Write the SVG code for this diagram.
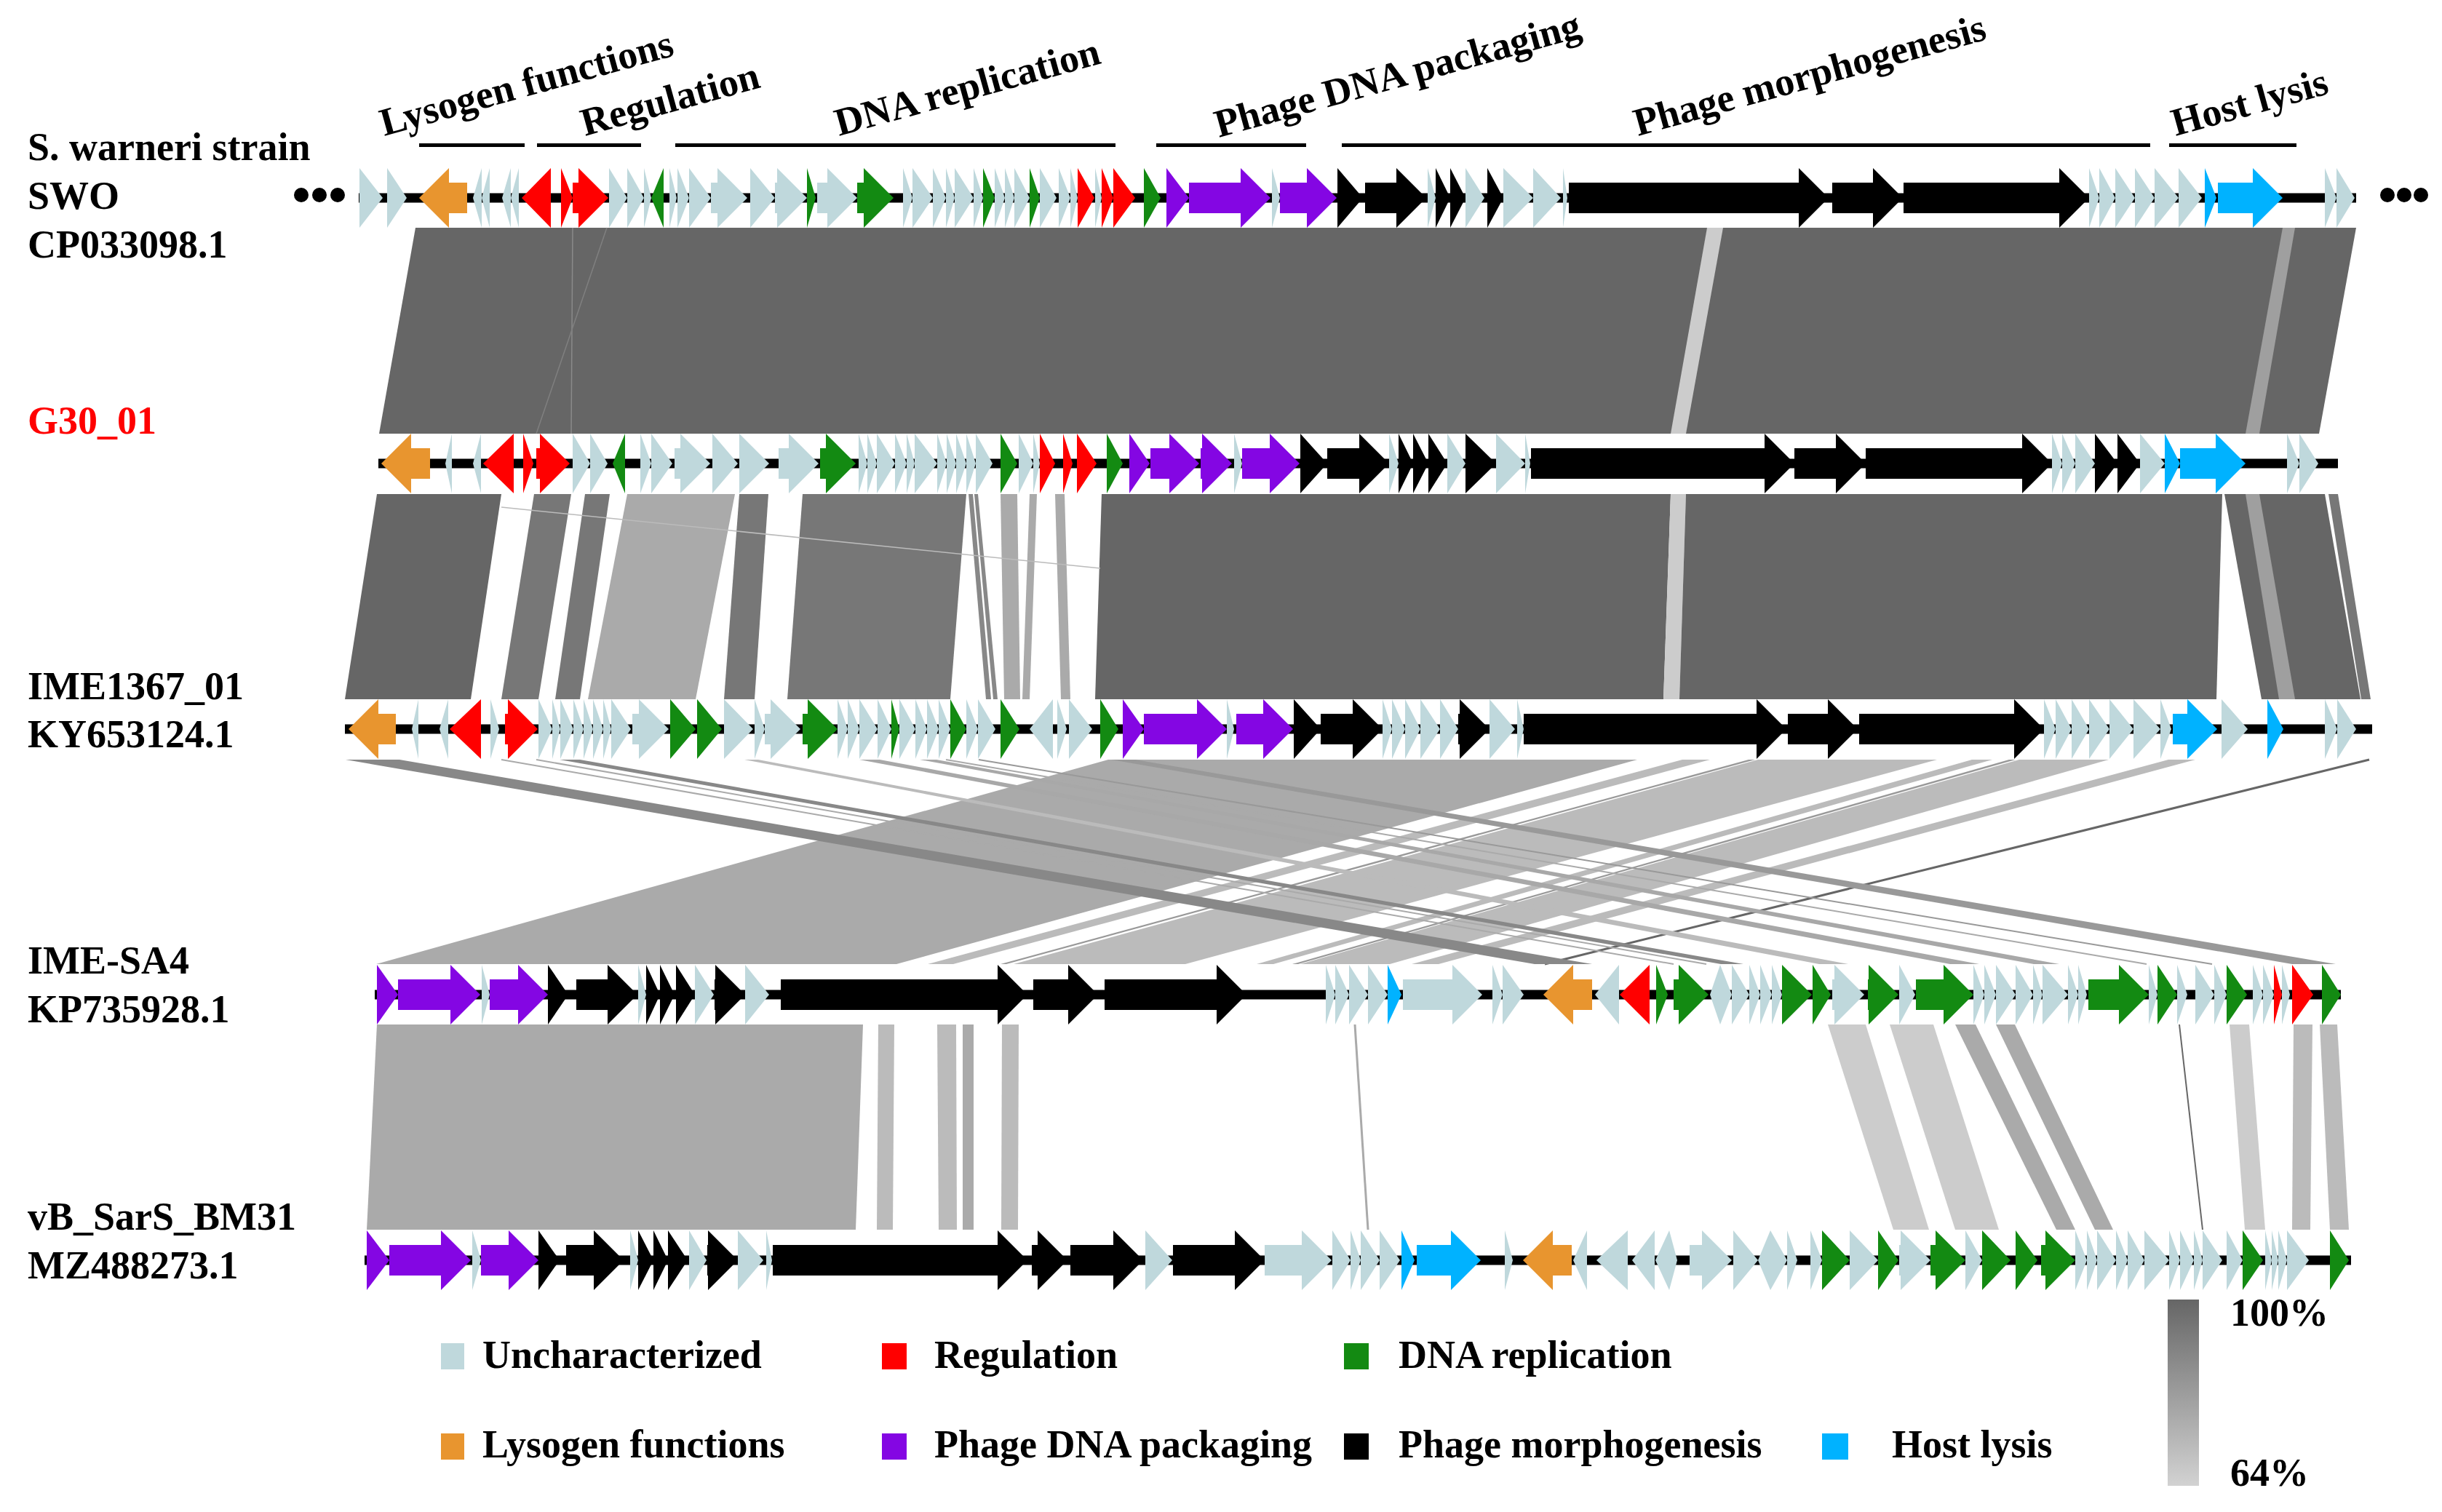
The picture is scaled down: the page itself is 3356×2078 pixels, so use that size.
<svg xmlns="http://www.w3.org/2000/svg" width="3356" height="2078" viewBox="0 0 3356 2078">
<defs>
<style>
.t{font-family:"Liberation Serif","Times New Roman",serif;font-weight:bold;font-size:54px;fill:#000}
.u{fill:#BFD8DC}.r{fill:#FF0000}.g{fill:#138A12}.o{fill:#E8952F}.p{fill:#8406E3}.k{fill:#000}.b{fill:#00B2FF}
.ax{fill:#000}
</style>
<linearGradient id="sim" x1="0" y1="0" x2="0" y2="1">
<stop offset="0" stop-color="#666"/><stop offset="1" stop-color="#d2d2d2"/>
</linearGradient>
</defs>
<rect width="3356" height="2078" fill="#fff"/>

<g id="connectors">
<!-- band 1 -->
<polygon points="571,313 3238,313 3187,596 521,596" fill="#666"/>
<polygon points="2346,313 2368,313 2317,596 2296,596" fill="#ccc"/>
<polygon points="3137,313 3154,313 3105,596 3086,596" fill="#9f9f9f"/>
<line x1="787" y1="313" x2="785" y2="596" stroke="#8a8a8a" stroke-width="1.5"/>
<line x1="834" y1="313" x2="737" y2="596" stroke="#808080" stroke-width="1.5"/>
<!-- band 2 -->
<polygon points="518,679 689,679 647,961 474,961" fill="#666"/>
<polygon points="734,679 785,679 740,961 689,961" fill="#777"/>
<polygon points="804,679 838,679 797,961 763,961" fill="#777"/>
<polygon points="862,679 1010,679 956,961 808,961" fill="#aaa"/>
<polygon points="1016,679 1056,679 1037,961 995,961" fill="#777"/>
<polygon points="1103,679 1328,679 1306,961 1082,961" fill="#777"/>
<polygon points="1331,679 1337,679 1362,961 1355,961" fill="#888"/>
<polygon points="1339,679 1344,679 1371,961 1365,961" fill="#888"/>
<polygon points="1375,679 1398,679 1402,961 1380,961" fill="#aaa"/>
<polygon points="1415,679 1425,679 1415,961 1405,961" fill="#aaa"/>
<polygon points="1450,679 1463,679 1471,961 1458,961" fill="#aaa"/>
<polygon points="1514,679 2296,679 2286,961 1505,961" fill="#666"/>
<polygon points="2296,679 2317,679 2308,961 2286,961" fill="#ccc"/>
<polygon points="2317,679 3054,679 3046,961 2308,961" fill="#666"/>
<polygon points="3057,679 3195,679 3244,961 3108,961" fill="#666"/>
<polygon points="3086,679 3105,679 3154,961 3132,961" fill="#9f9f9f"/>
<polygon points="3200,679 3213,679 3258,961 3245,961" fill="#777"/>
<line x1="689" y1="697" x2="1512" y2="781" stroke="#bbb" stroke-width="1.5"/>
<!-- band 3 -->
<polygon points="1523,1044 2250,1044 1232,1325 517,1325" fill="#aaa"/>
<polygon points="2312,1044 2350,1044 1310,1325 1275,1325" fill="#bbb"/>
<polygon points="2403,1044 2412,1044 1383,1325 1375,1325" fill="#999"/>
<polygon points="2416,1044 2662,1044 1629,1325 1393,1325" fill="#bbb"/>
<polygon points="2710,1044 2738,1044 1750,1325 1727,1325" fill="#bbb"/>
<polygon points="2761,1044 2770,1044 1784,1325 1776,1325" fill="#999"/>
<polygon points="2775,1044 2898,1044 1910,1325 1787,1325" fill="#bbb"/>
<polygon points="2980,1044 3017,1044 1977,1325 1940,1325" fill="#bbb"/>
<line x1="3256" y1="1044" x2="2123" y2="1325" stroke="#666" stroke-width="3"/>
<polygon points="475,1044 549,1044 2188,1325 2109,1325" fill="#888"/>
<line x1="689" y1="1044" x2="2300" y2="1325" stroke="#aaa" stroke-width="2"/>
<line x1="737" y1="1044" x2="2345" y2="1325" stroke="#aaa" stroke-width="2"/>
<polygon points="769,1044 797,1044 2396,1325 2365,1325" fill="#888"/>
<polygon points="1023,1044 1042,1044 2540,1325 2500,1325" fill="#bbb"/>
<polygon points="1181,1044 1209,1044 2720,1325 2680,1325" fill="#a8a8a8"/>
<polygon points="1264,1044 1287,1044 2830,1325 2795,1325" fill="#a8a8a8"/>
<line x1="1300" y1="1044" x2="2950" y2="1325" stroke="#aaa" stroke-width="2"/>
<line x1="1345" y1="1044" x2="3040" y2="1325" stroke="#999" stroke-width="2"/>
<polygon points="1527,1044 1560,1044 3210,1325 3150,1325" fill="#999"/>
<!-- band 4 -->
<polygon points="518,1408 1186,1408 1176,1690 504,1690" fill="#aaa"/>
<polygon points="1207,1408 1229,1408 1227,1690 1205,1690" fill="#bbb"/>
<polygon points="1288,1408 1314,1408 1315,1690 1290,1690" fill="#bbb"/>
<polygon points="1323,1408 1338,1408 1338,1690 1323,1690" fill="#aaa"/>
<polygon points="1377,1408 1400,1408 1399,1690 1376,1690" fill="#bbb"/>
<line x1="1862" y1="1408" x2="1880" y2="1690" stroke="#aaa" stroke-width="3"/>
<polygon points="2512,1408 2564,1408 2651,1690 2602,1690" fill="#ccc"/>
<polygon points="2597,1408 2657,1408 2747,1690 2687,1690" fill="#ccc"/>
<polygon points="2687,1408 2715,1408 2852,1690 2826,1690" fill="#aaa"/>
<polygon points="2743,1408 2769,1408 2904,1690 2879,1690" fill="#aaa"/>
<line x1="2995" y1="1408" x2="3027" y2="1690" stroke="#666" stroke-width="2"/>
<polygon points="3064,1408 3091,1408 3113,1690 3085,1690" fill="#ccc"/>
<polygon points="3152,1408 3178,1408 3175,1690 3150,1690" fill="#bbb"/>
<polygon points="3188,1408 3212,1408 3228,1690 3202,1690" fill="#bbb"/>
</g>

<g id="category-labels">
<text class="t" transform="translate(528,187) rotate(-15.5)">Lysogen functions</text>
<text class="t" transform="translate(804,187) rotate(-15.5)">Regulation</text>
<text class="t" transform="translate(1153,187) rotate(-15.5)">DNA replication</text>
<text class="t" transform="translate(1675,189) rotate(-15.5)">Phage DNA packaging</text>
<text class="t" transform="translate(2251,187) rotate(-15.5)">Phage morphogenesis</text>
<text class="t" transform="translate(2990,187) rotate(-15.5)">Host lysis</text>
<rect x="576" y="197" width="145" height="5"/>
<rect x="738" y="197" width="143" height="5"/>
<rect x="928" y="197" width="605" height="5"/>
<rect x="1589" y="197" width="206" height="5"/>
<rect x="1844" y="197" width="1111" height="5"/>
<rect x="2981" y="197" width="175" height="5"/>
</g>

<g id="track-SWO" transform="translate(0,272)">
<circle cx="414" cy="-4" r="10"/><circle cx="439" cy="-4" r="10"/><circle cx="464" cy="-4" r="10"/>
<circle cx="3281" cy="-4" r="10"/><circle cx="3304" cy="-4" r="10"/><circle cx="3327" cy="-4" r="10"/>
<rect class="ax" x="493" y="-6.5" width="2745" height="13"/>
<polygon class="u" points="494,-41 526,0 494,41"/>
<polygon class="u" points="532,-41 559,0 532,41"/>
<polygon class="o" points="642,-21 617,-21 617,-41 576,0 617,41 617,21 642,21"/>
<polygon class="u" points="662,-41 650,0 662,41"/>
<polygon class="u" points="673,-41 662,0 673,41"/>
<polygon class="u" points="702,-41 690,0 702,41"/>
<polygon class="u" points="713,-41 702,0 713,41"/>
<polygon class="r" points="757,-41 717,0 757,41"/>
<polygon class="r" points="771,-41 787,0 771,41"/>
<polygon class="r" points="787,-21 795,-21 795,-41 836,0 795,41 795,21 787,21"/>
<polygon class="u" points="837,-41 862,0 837,41"/>
<polygon class="u" points="862,-41 885,0 862,41"/>
<polygon class="u" points="885,-41 895,0 885,41"/>
<polygon class="g" points="912,-41 895,0 912,41"/>
<polygon class="u" points="920,-41 930,0 920,41"/>
<polygon class="u" points="931,-41 947,0 931,41"/>
<polygon class="u" points="947,-41 977,0 947,41"/>
<polygon class="u" points="977,-21 986,-21 986,-41 1027,0 986,41 986,21 977,21"/>
<polygon class="u" points="1031,-41 1065,0 1031,41"/>
<polygon class="u" points="1065,-21 1068,-21 1068,-41 1109,0 1068,41 1068,21 1065,21"/>
<polygon class="g" points="1109,-41 1121,0 1109,41"/>
<polygon class="u" points="1123,-21 1137,-21 1137,-41 1178,0 1137,41 1137,21 1123,21"/>
<polygon class="g" points="1178,-21 1187,-21 1187,-41 1228,0 1187,41 1187,21 1178,21"/>
<polygon class="u" points="1241,-41 1254,0 1241,41"/>
<polygon class="u" points="1254,-41 1282,0 1254,41"/>
<polygon class="u" points="1282,-41 1300,0 1282,41"/>
<polygon class="u" points="1300,-41 1312,0 1300,41"/>
<polygon class="u" points="1312,-41 1338,0 1312,41"/>
<polygon class="u" points="1338,-41 1351,0 1338,41"/>
<polygon class="g" points="1351,-41 1367,0 1351,41"/>
<polygon class="u" points="1367,-41 1381,0 1367,41"/>
<polygon class="u" points="1381,-41 1394,0 1381,41"/>
<polygon class="u" points="1394,-41 1415,0 1394,41"/>
<polygon class="g" points="1415,-41 1429,0 1415,41"/>
<polygon class="u" points="1429,-41 1452,0 1429,41"/>
<polygon class="u" points="1455,-41 1471,0 1455,41"/>
<polygon class="u" points="1471,-41 1481,0 1471,41"/>
<polygon class="r" points="1481,-41 1504,0 1481,41"/>
<polygon class="u" points="1505,-41 1514,0 1505,41"/>
<polygon class="r" points="1514,-41 1530,0 1514,41"/>
<polygon class="r" points="1530,-41 1560,0 1530,41"/>
<polygon class="g" points="1572,-41 1595,0 1572,41"/>
<polygon class="p" points="1603,-41 1634,0 1603,41"/>
<polygon class="p" points="1634,-21 1705,-21 1705,-41 1746,0 1705,41 1705,21 1634,21"/>
<polygon class="u" points="1748,-41 1759,0 1748,41"/>
<polygon class="p" points="1759,-21 1796,-21 1796,-41 1837,0 1796,41 1796,21 1759,21"/>
<polygon class="k" points="1838,-41 1873,0 1838,41"/>
<polygon class="k" points="1876,-21 1919,-21 1919,-41 1960,0 1919,41 1919,21 1876,21"/>
<polygon class="u" points="1962,-41 1973,0 1962,41"/>
<polygon class="k" points="1973,-41 1993,0 1973,41"/>
<polygon class="k" points="1993,-41 2014,0 1993,41"/>
<polygon class="u" points="2014,-41 2040,0 2014,41"/>
<polygon class="k" points="2044,-41 2066,0 2044,41"/>
<polygon class="u" points="2066,-41 2107,0 2066,41"/>
<polygon class="u" points="2107,-41 2145,0 2107,41"/>
<polygon class="u" points="2148,-41 2154,0 2148,41"/>
<polygon class="k" points="2156,-21 2472,-21 2472,-41 2513,0 2472,41 2472,21 2156,21"/>
<polygon class="k" points="2518,-21 2574,-21 2574,-41 2615,0 2574,41 2574,21 2518,21"/>
<polygon class="k" points="2616,-21 2830,-21 2830,-41 2871,0 2830,41 2830,21 2616,21"/>
<polygon class="u" points="2871,-41 2885,0 2871,41"/>
<polygon class="u" points="2885,-41 2907,0 2885,41"/>
<polygon class="u" points="2907,-41 2934,0 2907,41"/>
<polygon class="u" points="2934,-41 2961,0 2934,41"/>
<polygon class="u" points="2961,-41 2994,0 2961,41"/>
<polygon class="u" points="2994,-41 3026,0 2994,41"/>
<polygon class="b" points="3030,-41 3046,0 3030,41"/>
<polygon class="b" points="3048,-21 3096,-21 3096,-41 3137,0 3096,41 3096,21 3048,21"/>
<polygon class="u" points="3195,-41 3211,0 3195,41"/>
<polygon class="u" points="3211,-41 3236,0 3211,41"/>
</g>

<g id="track-G30_01" transform="translate(0,637)">
<rect class="ax" x="520" y="-6.5" width="2693" height="13"/>
<polygon class="o" points="591,-21 565,-21 565,-41 524,0 565,41 565,21 591,21"/>
<polygon class="u" points="621,-41 612,0 621,41"/>
<polygon class="u" points="661,-41 650,0 661,41"/>
<polygon class="r" points="706,-41 664,0 706,41"/>
<polygon class="r" points="719,-41 733,0 719,41"/>
<polygon class="r" points="737,-21 742,-21 742,-41 783,0 742,41 742,21 737,21"/>
<polygon class="u" points="787,-41 811,0 787,41"/>
<polygon class="u" points="811,-41 835,0 811,41"/>
<polygon class="g" points="859,-41 842,0 859,41"/>
<polygon class="u" points="880,-41 895,0 880,41"/>
<polygon class="u" points="895,-41 924,0 895,41"/>
<polygon class="u" points="927,-21 935,-21 935,-41 976,0 935,41 935,21 927,21"/>
<polygon class="u" points="979,-41 1014,0 979,41"/>
<polygon class="u" points="1016,-41 1057,0 1016,41"/>
<polygon class="u" points="1070,-21 1084,-21 1084,-41 1125,0 1084,41 1084,21 1070,21"/>
<polygon class="g" points="1127,-21 1135,-21 1135,-41 1176,0 1135,41 1135,21 1127,21"/>
<polygon class="u" points="1180,-41 1192,0 1180,41"/>
<polygon class="u" points="1192,-41 1205,0 1192,41"/>
<polygon class="u" points="1205,-41 1230,0 1205,41"/>
<polygon class="u" points="1230,-41 1246,0 1230,41"/>
<polygon class="u" points="1246,-41 1257,0 1246,41"/>
<polygon class="u" points="1257,-41 1288,0 1257,41"/>
<polygon class="u" points="1288,-41 1301,0 1288,41"/>
<polygon class="u" points="1301,-41 1314,0 1301,41"/>
<polygon class="u" points="1314,-41 1328,0 1314,41"/>
<polygon class="u" points="1328,-41 1341,0 1328,41"/>
<polygon class="u" points="1341,-41 1364,0 1341,41"/>
<polygon class="g" points="1375,-41 1398,0 1375,41"/>
<polygon class="u" points="1400,-41 1420,0 1400,41"/>
<polygon class="u" points="1420,-41 1429,0 1420,41"/>
<polygon class="r" points="1429,-41 1450,0 1429,41"/>
<polygon class="r" points="1461,-41 1474,0 1461,41"/>
<polygon class="r" points="1480,-41 1507,0 1480,41"/>
<polygon class="g" points="1521,-41 1543,0 1521,41"/>
<polygon class="p" points="1552,-41 1580,0 1552,41"/>
<polygon class="p" points="1581,-21 1607,-21 1607,-41 1648,0 1607,41 1607,21 1581,21"/>
<polygon class="p" points="1650,-21 1652,-21 1652,-41 1693,0 1652,41 1652,21 1650,21"/>
<polygon class="u" points="1696,-41 1707,0 1696,41"/>
<polygon class="p" points="1707,-21 1745,-21 1745,-41 1786,0 1745,41 1745,21 1707,21"/>
<polygon class="k" points="1787,-41 1824,0 1787,41"/>
<polygon class="k" points="1824,-21 1868,-21 1868,-41 1909,0 1868,41 1868,21 1824,21"/>
<polygon class="u" points="1909,-41 1922,0 1909,41"/>
<polygon class="k" points="1922,-41 1942,0 1922,41"/>
<polygon class="k" points="1942,-41 1963,0 1942,41"/>
<polygon class="k" points="1963,-41 1989,0 1963,41"/>
<polygon class="u" points="1989,-41 2014,0 1989,41"/>
<polygon class="k" points="2014,-41 2056,0 2014,41"/>
<polygon class="u" points="2056,-41 2096,0 2056,41"/>
<polygon class="u" points="2096,-41 2103,0 2096,41"/>
<polygon class="k" points="2104,-21 2425,-21 2425,-41 2466,0 2425,41 2425,21 2104,21"/>
<polygon class="k" points="2466,-21 2523,-21 2523,-41 2564,0 2523,41 2523,21 2466,21"/>
<polygon class="k" points="2564,-21 2779,-21 2779,-41 2820,0 2779,41 2779,21 2564,21"/>
<polygon class="u" points="2820,-41 2834,0 2820,41"/>
<polygon class="u" points="2834,-41 2852,0 2834,41"/>
<polygon class="u" points="2852,-41 2879,0 2852,41"/>
<polygon class="k" points="2879,-41 2910,0 2879,41"/>
<polygon class="k" points="2910,-41 2941,0 2910,41"/>
<polygon class="u" points="2941,-41 2975,0 2941,41"/>
<polygon class="b" points="2975,-41 2996,0 2975,41"/>
<polygon class="b" points="2996,-21 3045,-21 3045,-41 3086,0 3045,41 3045,21 2996,21"/>
<polygon class="u" points="3143,-41 3160,0 3143,41"/>
<polygon class="u" points="3160,-41 3186,0 3160,41"/>
</g>

<g id="track-IME1367_01" transform="translate(0,1002)">
<rect class="ax" x="474" y="-6.5" width="2786" height="13"/>
<polygon class="o" points="544,-21 520,-21 520,-41 479,0 520,41 520,21 544,21"/>
<polygon class="u" points="575,-41 566,0 575,41"/>
<polygon class="u" points="616,-41 604,0 616,41"/>
<polygon class="r" points="661,-41 618,0 661,41"/>
<polygon class="u" points="674,-41 686,0 674,41"/>
<polygon class="r" points="694,-21 698,-21 698,-41 739,0 698,41 698,21 694,21"/>
<polygon class="u" points="740,-41 759,0 740,41"/>
<polygon class="u" points="759,-41 770,0 759,41"/>
<polygon class="u" points="770,-41 788,0 770,41"/>
<polygon class="u" points="788,-41 802,0 788,41"/>
<polygon class="u" points="802,-41 815,0 802,41"/>
<polygon class="u" points="815,-41 829,0 815,41"/>
<polygon class="u" points="829,-41 840,0 829,41"/>
<polygon class="u" points="840,-41 867,0 840,41"/>
<polygon class="u" points="869,-21 878,-21 878,-41 919,0 878,41 878,21 869,21"/>
<polygon class="g" points="921,-41 956,0 921,41"/>
<polygon class="g" points="958,-41 992,0 958,41"/>
<polygon class="u" points="995,-41 1035,0 995,41"/>
<polygon class="u" points="1037,-41 1051,0 1037,41"/>
<polygon class="u" points="1051,-21 1059,-21 1059,-41 1100,0 1059,41 1059,21 1051,21"/>
<polygon class="g" points="1103,-21 1110,-21 1110,-41 1151,0 1110,41 1110,21 1103,21"/>
<polygon class="u" points="1151,-41 1165,0 1151,41"/>
<polygon class="u" points="1165,-41 1181,0 1165,41"/>
<polygon class="u" points="1181,-41 1206,0 1181,41"/>
<polygon class="u" points="1206,-41 1225,0 1206,41"/>
<polygon class="g" points="1225,-41 1236,0 1225,41"/>
<polygon class="u" points="1236,-41 1258,0 1236,41"/>
<polygon class="u" points="1258,-41 1274,0 1258,41"/>
<polygon class="u" points="1274,-41 1290,0 1274,41"/>
<polygon class="u" points="1290,-41 1306,0 1290,41"/>
<polygon class="g" points="1306,-41 1328,0 1306,41"/>
<polygon class="u" points="1328,-41 1344,0 1328,41"/>
<polygon class="u" points="1344,-41 1368,0 1344,41"/>
<polygon class="g" points="1375,-41 1401,0 1375,41"/>
<polygon class="u" points="1447,-41 1415,0 1447,41"/>
<polygon class="u" points="1453,-41 1466,0 1453,41"/>
<polygon class="u" points="1469,-41 1501,0 1469,41"/>
<polygon class="g" points="1512,-41 1537,0 1512,41"/>
<polygon class="p" points="1543,-41 1572,0 1543,41"/>
<polygon class="p" points="1572,-21 1645,-21 1645,-41 1686,0 1645,41 1645,21 1572,21"/>
<polygon class="u" points="1686,-41 1696,0 1686,41"/>
<polygon class="p" points="1699,-21 1736,-21 1736,-41 1777,0 1736,41 1736,21 1699,21"/>
<polygon class="k" points="1778,-41 1815,0 1778,41"/>
<polygon class="k" points="1815,-21 1859,-21 1859,-41 1900,0 1859,41 1859,21 1815,21"/>
<polygon class="u" points="1900,-41 1913,0 1900,41"/>
<polygon class="u" points="1913,-41 1931,0 1913,41"/>
<polygon class="u" points="1931,-41 1952,0 1931,41"/>
<polygon class="u" points="1952,-41 1979,0 1952,41"/>
<polygon class="u" points="1979,-41 2004,0 1979,41"/>
<polygon class="k" points="2004,-21 2006,-21 2006,-41 2047,0 2006,41 2006,21 2004,21"/>
<polygon class="u" points="2047,-41 2082,0 2047,41"/>
<polygon class="u" points="2085,-41 2094,0 2085,41"/>
<polygon class="k" points="2094,-21 2414,-21 2414,-41 2455,0 2414,41 2414,21 2094,21"/>
<polygon class="k" points="2457,-21 2512,-21 2512,-41 2553,0 2512,41 2512,21 2457,21"/>
<polygon class="k" points="2555,-21 2768,-21 2768,-41 2809,0 2768,41 2768,21 2555,21"/>
<polygon class="u" points="2809,-41 2825,0 2809,41"/>
<polygon class="u" points="2825,-41 2847,0 2825,41"/>
<polygon class="u" points="2847,-41 2871,0 2847,41"/>
<polygon class="u" points="2871,-41 2899,0 2871,41"/>
<polygon class="u" points="2899,-41 2932,0 2899,41"/>
<polygon class="u" points="2932,-41 2969,0 2932,41"/>
<polygon class="u" points="2969,-41 2984,0 2969,41"/>
<polygon class="b" points="2986,-21 3006,-21 3006,-41 3047,0 3006,41 3006,21 2986,21"/>
<polygon class="u" points="3053,-41 3089,0 3053,41"/>
<polygon class="b" points="3116,-41 3138,0 3116,41"/>
<polygon class="u" points="3195,-41 3212,0 3195,41"/>
<polygon class="u" points="3212,-41 3238,0 3212,41"/>
</g>

<g id="track-IME-SA4" transform="translate(0,1367)">
<rect class="ax" x="515" y="-6.5" width="2702" height="13"/>
<polygon class="p" points="518,-41 547,0 518,41"/>
<polygon class="p" points="547,-21 619,-21 619,-41 660,0 619,41 619,21 547,21"/>
<polygon class="u" points="662,-41 673,0 662,41"/>
<polygon class="p" points="673,-21 712,-21 712,-41 753,0 712,41 712,21 673,21"/>
<polygon class="k" points="753,-41 781,0 753,41"/>
<polygon class="k" points="792,-21 835,-21 835,-41 876,0 835,41 835,21 792,21"/>
<polygon class="u" points="877,-41 888,0 877,41"/>
<polygon class="k" points="888,-41 907,0 888,41"/>
<polygon class="k" points="907,-41 927,0 907,41"/>
<polygon class="k" points="929,-41 955,0 929,41"/>
<polygon class="u" points="955,-41 981,0 955,41"/>
<polygon class="k" points="982,-21 983,-21 983,-41 1024,0 983,41 983,21 982,21"/>
<polygon class="u" points="1024,-41 1057,0 1024,41"/>
<polygon class="k" points="1073,-21 1371,-21 1371,-41 1412,0 1371,41 1371,21 1073,21"/>
<polygon class="k" points="1420,-21 1468,-21 1468,-41 1509,0 1468,41 1468,21 1420,21"/>
<polygon class="k" points="1518,-21 1672,-21 1672,-41 1713,0 1672,41 1672,21 1518,21"/>
<polygon class="u" points="1822,-41 1835,0 1822,41"/>
<polygon class="u" points="1835,-41 1854,0 1835,41"/>
<polygon class="u" points="1854,-41 1880,0 1854,41"/>
<polygon class="u" points="1880,-41 1907,0 1880,41"/>
<polygon class="b" points="1907,-41 1926,0 1907,41"/>
<polygon class="u" points="1928,-21 1996,-21 1996,-41 2037,0 1996,41 1996,21 1928,21"/>
<polygon class="u" points="2051,-41 2065,0 2051,41"/>
<polygon class="u" points="2065,-41 2094,0 2065,41"/>
<polygon class="o" points="2188,-21 2162,-21 2162,-41 2121,0 2162,41 2162,21 2188,21"/>
<polygon class="u" points="2225,-41 2192,0 2225,41"/>
<polygon class="r" points="2267,-41 2226,0 2267,41"/>
<polygon class="g" points="2276,-41 2292,0 2276,41"/>
<polygon class="g" points="2300,-21 2307,-21 2307,-41 2348,0 2307,41 2307,21 2300,21"/>
<polygon class="u" points="2364,-41 2350,0 2364,41"/>
<polygon class="u" points="2364,-41 2380,0 2364,41"/>
<polygon class="u" points="2380,-41 2404,0 2380,41"/>
<polygon class="u" points="2404,-41 2419,0 2404,41"/>
<polygon class="u" points="2419,-41 2435,0 2419,41"/>
<polygon class="u" points="2435,-41 2449,0 2435,41"/>
<polygon class="g" points="2449,-41 2490,0 2449,41"/>
<polygon class="g" points="2491,-41 2516,0 2491,41"/>
<polygon class="u" points="2518,-21 2521,-21 2521,-41 2562,0 2521,41 2521,21 2518,21"/>
<polygon class="g" points="2567,-21 2568,-21 2568,-41 2609,0 2568,41 2568,21 2567,21"/>
<polygon class="u" points="2610,-41 2632,0 2610,41"/>
<polygon class="g" points="2633,-21 2671,-21 2671,-41 2712,0 2671,41 2671,21 2633,21"/>
<polygon class="u" points="2712,-41 2727,0 2712,41"/>
<polygon class="u" points="2727,-41 2743,0 2727,41"/>
<polygon class="u" points="2743,-41 2770,0 2743,41"/>
<polygon class="u" points="2770,-41 2794,0 2770,41"/>
<polygon class="u" points="2794,-41 2807,0 2794,41"/>
<polygon class="u" points="2807,-41 2842,0 2807,41"/>
<polygon class="u" points="2842,-41 2856,0 2842,41"/>
<polygon class="u" points="2856,-41 2868,0 2856,41"/>
<polygon class="g" points="2870,-21 2912,-21 2912,-41 2953,0 2912,41 2912,21 2870,21"/>
<polygon class="u" points="2953,-41 2965,0 2953,41"/>
<polygon class="g" points="2965,-41 2992,0 2965,41"/>
<polygon class="u" points="2992,-41 3006,0 2992,41"/>
<polygon class="u" points="3017,-41 3043,0 3017,41"/>
<polygon class="u" points="3043,-41 3060,0 3043,41"/>
<polygon class="g" points="3060,-41 3088,0 3060,41"/>
<polygon class="u" points="3096,-41 3110,0 3096,41"/>
<polygon class="u" points="3110,-41 3125,0 3110,41"/>
<polygon class="r" points="3125,-41 3136,0 3125,41"/>
<polygon class="u" points="3136,-41 3147,0 3136,41"/>
<polygon class="r" points="3150,-41 3179,0 3150,41"/>
<polygon class="g" points="3191,-41 3217,0 3191,41"/>
</g>

<g id="track-vB_SarS_BM31" transform="translate(0,1732)">
<rect class="ax" x="501" y="-6.5" width="2730" height="13"/>
<polygon class="p" points="504,-41 535,0 504,41"/>
<polygon class="p" points="535,-21 606,-21 606,-41 647,0 606,41 606,21 535,21"/>
<polygon class="u" points="649,-41 661,0 649,41"/>
<polygon class="p" points="661,-21 699,-21 699,-41 740,0 699,41 699,21 661,21"/>
<polygon class="k" points="740,-41 769,0 740,41"/>
<polygon class="k" points="778,-21 816,-21 816,-41 857,0 816,41 816,21 778,21"/>
<polygon class="u" points="866,-41 877,0 866,41"/>
<polygon class="k" points="877,-41 898,0 877,41"/>
<polygon class="k" points="898,-41 918,0 898,41"/>
<polygon class="k" points="918,-41 945,0 918,41"/>
<polygon class="u" points="947,-41 971,0 947,41"/>
<polygon class="k" points="972,-21 973,-21 973,-41 1014,0 973,41 973,21 972,21"/>
<polygon class="u" points="1014,-41 1049,0 1014,41"/>
<polygon class="u" points="1053,-41 1061,0 1053,41"/>
<polygon class="k" points="1062,-21 1371,-21 1371,-41 1412,0 1371,41 1371,21 1062,21"/>
<polygon class="k" points="1418,-21 1426,-21 1426,-41 1467,0 1426,41 1426,21 1418,21"/>
<polygon class="k" points="1471,-21 1530,-21 1530,-41 1571,0 1530,41 1530,21 1471,21"/>
<polygon class="u" points="1574,-41 1611,0 1574,41"/>
<polygon class="k" points="1612,-21 1697,-21 1697,-41 1738,0 1697,41 1697,21 1612,21"/>
<polygon class="u" points="1738,-21 1789,-21 1789,-41 1830,0 1789,41 1789,21 1738,21"/>
<polygon class="u" points="1831,-41 1856,0 1831,41"/>
<polygon class="u" points="1856,-41 1870,0 1856,41"/>
<polygon class="u" points="1870,-41 1896,0 1870,41"/>
<polygon class="u" points="1896,-41 1924,0 1896,41"/>
<polygon class="b" points="1926,-41 1944,0 1926,41"/>
<polygon class="b" points="1947,-21 1994,-21 1994,-41 2035,0 1994,41 1994,21 1947,21"/>
<polygon class="u" points="2068,-41 2079,0 2068,41"/>
<polygon class="o" points="2160,-21 2134,-21 2134,-41 2093,0 2134,41 2134,21 2160,21"/>
<polygon class="u" points="2181,-41 2162,0 2181,41"/>
<polygon class="u" points="2237,-41 2194,0 2237,41"/>
<polygon class="u" points="2274,-41 2243,0 2274,41"/>
<polygon class="u" points="2294,-41 2275,0 2294,41"/>
<polygon class="u" points="2294,-41 2305,0 2294,41"/>
<polygon class="u" points="2322,-21 2339,-21 2339,-41 2380,0 2339,41 2339,21 2322,21"/>
<polygon class="u" points="2382,-41 2416,0 2382,41"/>
<polygon class="u" points="2433,-41 2416,0 2433,41"/>
<polygon class="u" points="2433,-41 2456,0 2433,41"/>
<polygon class="u" points="2456,-41 2470,0 2456,41"/>
<polygon class="u" points="2488,-41 2504,0 2488,41"/>
<polygon class="g" points="2504,-41 2542,0 2504,41"/>
<polygon class="u" points="2542,-41 2581,0 2542,41"/>
<polygon class="g" points="2581,-41 2609,0 2581,41"/>
<polygon class="u" points="2610,-21 2612,-21 2612,-41 2653,0 2612,41 2612,21 2610,21"/>
<polygon class="g" points="2653,-21 2660,-21 2660,-41 2701,0 2660,41 2660,21 2653,21"/>
<polygon class="u" points="2701,-41 2724,0 2701,41"/>
<polygon class="g" points="2724,-41 2763,0 2724,41"/>
<polygon class="g" points="2770,-41 2800,0 2770,41"/>
<polygon class="g" points="2805,-21 2811,-21 2811,-41 2852,0 2811,41 2811,21 2805,21"/>
<polygon class="u" points="2852,-41 2868,0 2852,41"/>
<polygon class="u" points="2868,-41 2882,0 2868,41"/>
<polygon class="u" points="2882,-41 2908,0 2882,41"/>
<polygon class="u" points="2908,-41 2924,0 2908,41"/>
<polygon class="u" points="2924,-41 2947,0 2924,41"/>
<polygon class="u" points="2947,-41 2981,0 2947,41"/>
<polygon class="u" points="2981,-41 2996,0 2981,41"/>
<polygon class="u" points="2996,-41 3015,0 2996,41"/>
<polygon class="u" points="3015,-41 3027,0 3015,41"/>
<polygon class="u" points="3027,-41 3054,0 3027,41"/>
<polygon class="u" points="3060,-41 3082,0 3060,41"/>
<polygon class="g" points="3082,-41 3110,0 3082,41"/>
<polygon class="u" points="3113,-41 3122,0 3113,41"/>
<polygon class="u" points="3122,-41 3131,0 3122,41"/>
<polygon class="u" points="3131,-41 3143,0 3131,41"/>
<polygon class="u" points="3143,-41 3173,0 3143,41"/>
<polygon class="g" points="3202,-41 3228,0 3202,41"/>
</g>

<g id="track-labels">
<text class="t" x="38" y="220">S. warneri strain</text>
<text class="t" x="38" y="287">SWO</text>
<text class="t" x="38" y="354">CP033098.1</text>
<text class="t" x="38" y="596" style="fill:#FF0000">G30_01</text>
<text class="t" x="38" y="961">IME1367_01</text>
<text class="t" x="38" y="1027">KY653124.1</text>
<text class="t" x="38" y="1338">IME-SA4</text>
<text class="t" x="38" y="1405">KP735928.1</text>
<text class="t" x="38" y="1690">vB_SarS_BM31</text>
<text class="t" x="38" y="1757">MZ488273.1</text>
</g>

<g id="legend">
<rect class="u" x="606" y="1846" width="32" height="36"/>
<text class="t" x="663" y="1880">Uncharacterized</text>
<rect class="r" x="1212" y="1846" width="34" height="36"/>
<text class="t" x="1284" y="1880">Regulation</text>
<rect class="g" x="1847" y="1846" width="34" height="36"/>
<text class="t" x="1922" y="1880">DNA replication</text>
<rect class="o" x="606" y="1970" width="32" height="36"/>
<text class="t" x="663" y="2003">Lysogen functions</text>
<rect class="p" x="1212" y="1970" width="34" height="36"/>
<text class="t" x="1284" y="2003">Phage DNA packaging</text>
<rect class="k" x="1847" y="1970" width="34" height="36"/>
<text class="t" x="1922" y="2003">Phage morphogenesis</text>
<rect class="b" x="2504" y="1970" width="36" height="36"/>
<text class="t" x="2600" y="2003">Host lysis</text>
<rect x="2979" y="1786" width="43" height="256" fill="url(#sim)"/>
<text class="t" x="3065" y="1822">100%</text>
<text class="t" x="3065" y="2042">64%</text>
</g>
</svg>
